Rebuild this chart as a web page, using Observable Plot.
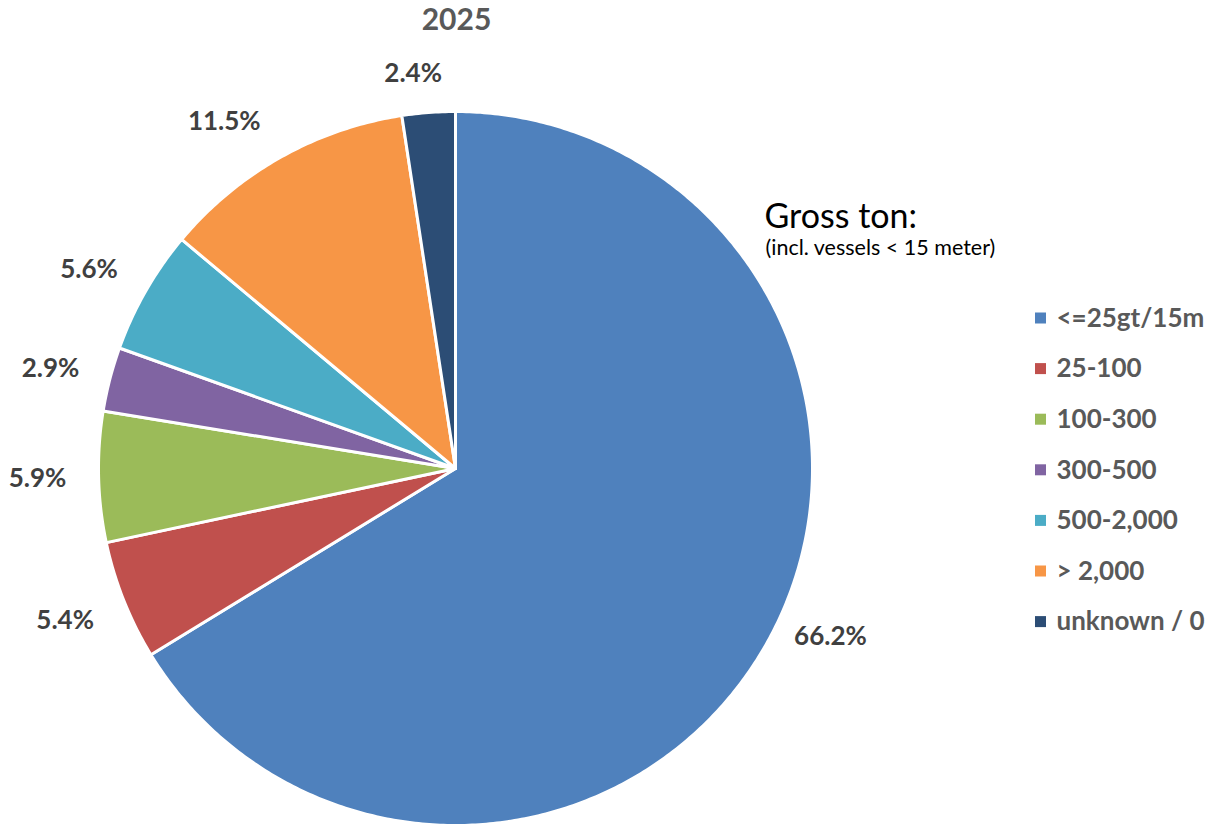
<!DOCTYPE html>
<html><head><meta charset="utf-8">
<script src="https://cdn.jsdelivr.net/npm/d3@7"></script>
<script src="https://cdn.jsdelivr.net/npm/@observablehq/plot@0.6"></script>
<style>body{margin:0;background:#fff;} #chart{position:relative;width:1210px;height:829px;}</style>
</head><body><div id="chart"></div>
<script>
const categories = ["<=25gt/15m","25-100","100-300","300-500","500-2,000","> 2,000","unknown / 0"];
const shares = [66.2, 5.4, 5.9, 2.9, 5.6, 11.5, 2.4];
const labels = ["66.2%","5.4%","5.9%","2.9%","5.6%","11.5%","2.4%"];
const colors = ["#4F81BD","#C0504D","#9BBB59","#8064A2","#4BACC6","#F79646","#2C4D75"];
const title = "2025";
const legendTitle = "Gross ton:";
const legendSub = "(incl. vessels < 15 meter)";

const W = 1210, H = 829;
const cx = 455, cy = 468, R = 357;
const font = "Lato, 'Open Sans', sans-serif";

const arcs = d3.pie().sort(null).value(d => d)(shares);
const pt = (a, r) => [cx + r * Math.sin(a), cy - r * Math.cos(a)];

const marks = [];
arcs.forEach((a, i) => {
  const pts = [pt(0, 0)];
  const n = Math.max(4, Math.ceil((a.endAngle - a.startAngle) / 0.01));
  for (let k = 0; k <= n; k++) pts.push(pt(a.startAngle + (a.endAngle - a.startAngle) * k / n, R));
  pts.push(pt(0, 0));
  marks.push(Plot.line(pts, {x: d => d[0], y: d => d[1], fill: colors[i], stroke: "white", strokeWidth: 3, strokeLinejoin: "round", curve: "linear"}));
});

// label placement (outside end, with the original's best-fit nudges: [degrees, radius])
const labelNudge = [[-5.1, 411], [0.4, 419], [0, 418], [-0.7, 417], [-1.3, 417], [-4.3, 417], [-1.8, 397]];
const labelData = arcs.map((a, i) => {
  const m = (a.startAngle + a.endAngle) / 2 + labelNudge[i][0] * Math.PI / 180;
  const [x, y] = pt(m, labelNudge[i][1]);
  return {x, y, t: labels[i]};
});
marks.push(Plot.text(labelData, {x: "x", y: "y", text: "t", fontSize: 26, fontWeight: "bold", fill: "#404040", fontFamily: font}));

// title
marks.push(Plot.text([title], {x: () => cx + 1, y: () => 20, text: d => d, fontSize: 30, fontWeight: "bold", fill: "#595959", fontFamily: font}));

// legend header
marks.push(Plot.text([legendTitle], {x: () => 764, y: () => 217, text: d => d, textAnchor: "start", fontSize: 34, fill: "#000", fontFamily: font}));
marks.push(Plot.text([legendSub], {x: () => 765, y: () => 248, text: d => d, textAnchor: "start", fontSize: 21.5, fill: "#000", fontFamily: font}));

// legend
const legendData = categories.map((c, i) => ({c, col: colors[i], y: 318 + i * 50.6}));
marks.push(Plot.rect(legendData, {x1: () => 1035, x2: () => 1046, y1: d => d.y - 5.5, y2: d => d.y + 5.5, fill: "col"}));
marks.push(Plot.text(legendData, {x: () => 1056, y: "y", text: "c", textAnchor: "start", fontSize: 26, fontWeight: "bold", fill: "#595959", fontFamily: font}));

const svg = Plot.plot({
  width: W, height: H, margin: 0,
  x: {domain: [0, W], range: [0, W], axis: null},
  y: {domain: [0, H], range: [0, H], axis: null},
  style: {background: "white", overflow: "visible"},
  marks
});
document.getElementById("chart").appendChild(svg);
</script></body></html>
